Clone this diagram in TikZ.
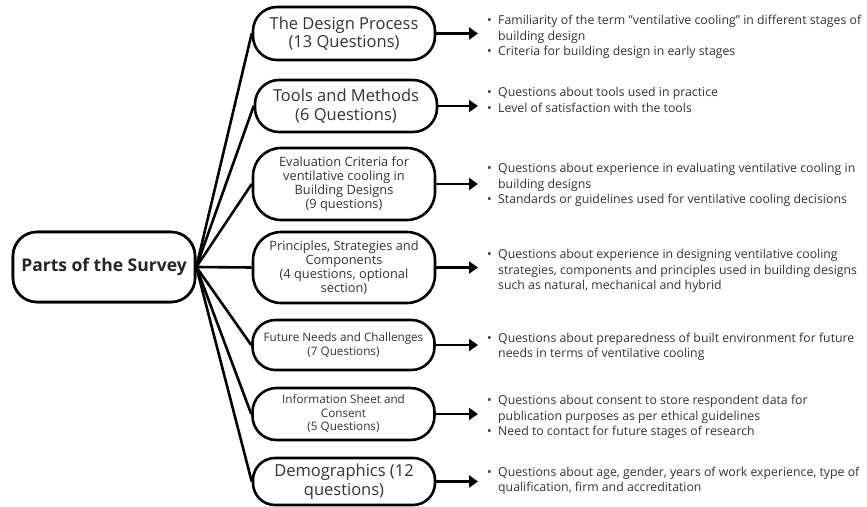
\documentclass[tikz,border=0pt]{standalone}
\usepackage{fontspec}
\setmainfont{Open Sans}
\usetikzlibrary{arrows.meta}
\definecolor{txt}{HTML}{333333}
\newcommand{\bl}{\makebox[13pt][l]{\hspace{2pt}\textbullet}}
\newcommand{\bi}{\makebox[13pt]{}}
\begin{document}
\begin{tikzpicture}[x=1pt,y=-1pt,
  part/.style={draw=black, line width=2.6pt, fill=white, minimum width=182pt, align=center, text=txt, inner sep=2pt},
  big/.style={font=\fontsize{16.5}{18.5}\selectfont},
  small/.style={font=\fontsize{12.8}{13.8}\selectfont},
  tiny/.style={font=\fontsize{11.7}{13.5}\selectfont},
  rootbox/.style={draw=black, line width=2.6pt, fill=white, minimum width=182pt, minimum height=70pt, rounded corners=24pt, font=\bfseries\fontsize{17.5}{18}\selectfont, text=black!85},
  link/.style={line width=2.6pt},
  arr/.style={line width=2.6pt, -{Triangle[length=9pt,width=12pt]}},
  desc/.style={anchor=west, align=left, font=\fontsize{12.3}{15.3}\selectfont, text=txt, inner sep=0pt}]
\useasboundingbox (0,0) rectangle (867,506);

\node[rootbox] (root) at (104,267) {Parts of the Survey};

\node[part, big, minimum height=53pt, rounded corners=24pt] (p1) at (344,33.5) {The Design Process\\(13 Questions)};
\node[part, big, minimum height=52pt, rounded corners=24pt] (p2) at (346,106) {Tools and Methods\\(6 Questions)};
\node[part, small, minimum height=72pt, rounded corners=28pt] (p3) at (344,184) {Evaluation Criteria for\\ventilative cooling in\\Building Designs\\(9 questions)};
\node[part, small, minimum height=71pt, rounded corners=28pt] (p4) at (344,267.5) {Principles, Strategies and\\Components\\(4 questions, optional\\section)};
\node[part, tiny, minimum height=50pt, rounded corners=23pt] (p5) at (343.5,345) {Future Needs and Challenges\\(7 Questions)};
\node[part, tiny, minimum height=52pt, rounded corners=24pt] (p6) at (343.5,414) {Information Sheet and\\Consent\\(5 Questions)};
\node[part, big, minimum height=47pt, rounded corners=22pt] (p7) at (344,481.5) {Demographics (12\\questions)};

\foreach \i in {1,...,7} {
  \draw[link] (root.east) -- (p\i.west);
}
\node[rootbox] at (root) {Parts of the Survey};
\foreach \i/\y in {1/33.5,2/106,3/184,4/267.5,5/345,6/414,7/481.5} {
  \coordinate (e\i) at (478,\y);
  \draw[arr] (p\i.east) -- (e\i);
}

\node[desc] (d1) at (485,37) {\bl Familiarity of the term "ventilative cooling" in different stages of\\\bi building design\\\bl Criteria for building design in early stages};
\node[desc] (d2) at (485,100) {\bl Questions about tools used in practice\\\bl Level of satisfaction with the tools};
\node[desc] (d3) at (485,185) {\bl Questions about experience in evaluating ventilative cooling in\\\bi building designs\\\bl Standards or guidelines used for ventilative cooling decisions};
\node[desc] (d4) at (485,271) {\bl Questions about experience in designing ventilative cooling\\\bi strategies, components and principles used in building designs\\\bi such as natural, mechanical and hybrid};
\node[desc] (d5) at (485,346.5) {\bl Questions about preparedness of built environment for future\\\bi needs in terms of ventilative cooling};
\node[desc] (d6) at (485,417) {\bl Questions about consent to store respondent data for\\\bi publication purposes as per ethical guidelines\\\bl Need to contact for future stages of research};
\node[desc] (d7) at (485,480.5) {\bl Questions about age, gender, years of work experience, type of\\\bi qualification, firm and accreditation};
\end{tikzpicture}
\end{document}
